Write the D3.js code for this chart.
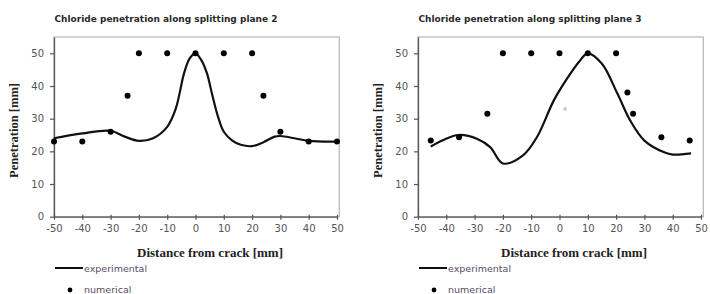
<!DOCTYPE html>
<html>
<head>
<meta charset="utf-8">
<script src="https://cdn.jsdelivr.net/npm/d3@7"></script>
<style>
  body { margin: 0; background: #fff; }
  svg { display: block; }
</style>
</head>
<body>
<script>
const width = 710;
const height = 294;

const titles = ["Chloride penetration along splitting plane 2", "Chloride penetration along splitting plane 3"];
// Plane 2
const exp2 = [[-50,24],[-40,25.5],[-30,26.3],[-25,24.5],[-20,23.2],[-15,24],[-10,27.5],[-7,33],[-4,44],[-2,48.5],[0,50],[2,48],[4,44],[6,37],[8,30.5],[10,26],[13,23.3],[16,22],[20,21.6],[24,22.8],[28,24.5],[30,24.7],[35,24],[40,23.2],[50,23]];
const num2 = [[-50,23],[-40,23],[-30,26],[-24,37],[-20,50],[-10,50],[0,50],[10,50],[20,50],[24,37],[30,26],[40,23],[50,23]];
// Plane 3
const exp3 = [[-45.5,21.5],[-41,23.5],[-35.7,25],[-29,23.8],[-24.5,21.3],[-20,16.3],[-13,18.7],[-8,24.3],[-2,35.6],[3,42.7],[7,47.5],[10,50],[15,46.8],[20.5,37.6],[25,29.4],[30,23.3],[37,19.7],[40,19],[46.5,19.4]];
const num3 = [[-45.5,23.3],[-35.5,24.3],[-25.5,31.5],[-20,50],[-10,50],[0,50],[10,50],[20,50],[24,38],[26,31.5],[36,24.3],[46,23.3]];
const faint3 = [[2,33]];

const xTicks = [-50,-40,-30,-20,-10,0,10,20,30,40,50];
const yTicks = [0,10,20,30,40,50];

const svg = d3.select("body").append("svg")
  .attr("width", width)
  .attr("height", height);

function drawPanel(left, title, expData, numData, ghost) {
  const plotW = 283;
  const top = 37, bottom = 216.7;
  const x = d3.scaleLinear().domain([-50, 50]).range([left, left + plotW]);
  const y = d3.scaleLinear().domain([0, 55]).range([bottom, top]);
  const g = svg.append("g");

  // frame
  g.append("rect")
    .attr("x", x(-50)).attr("y", y(55))
    .attr("width", x(50.8) - x(-50)).attr("height", y(0) - y(55))
    .attr("fill", "none").attr("stroke", "#b5b5b5").attr("stroke-width", 1.2);

  // axes
  const yAxis = g.append("g")
    .attr("transform", `translate(${x(-50)},0)`)
    .call(d3.axisLeft(y).tickValues(yTicks).tickSize(4).tickSizeOuter(0));
  const xAxis = g.append("g")
    .attr("transform", `translate(0,${y(0)})`)
    .call(d3.axisBottom(x).tickValues(xTicks).tickSize(3).tickSizeOuter(0)
      .tickFormat(d => String(d)));
  [xAxis, yAxis].forEach(a => {
    a.select(".domain").attr("stroke", "#555").attr("stroke-width", 1.3);
    a.selectAll(".tick line").attr("stroke", "#555").attr("stroke-width", 1.2);
    a.selectAll("text")
      .attr("fill", "#555")
      .style("font-family", "DejaVu Sans")
      .style("font-size", "10px");
  });
  yAxis.selectAll("text").attr("x", -10);
  xAxis.selectAll(".tick line").attr("y1", -2);
  xAxis.selectAll("text").attr("y", 8);

  // title
  g.append("text")
    .attr("x", left + 112).attr("y", 22)
    .attr("text-anchor", "middle")
    .style("font-family", "DejaVu Sans")
    .style("font-weight", "bold")
    .style("font-size", "9px")
    .attr("fill", "#2a2a2a")
    .text(title);

  // axis titles
  g.append("text")
    .attr("transform", `translate(${left - 36},130.5) rotate(-90)`)
    .attr("text-anchor", "middle")
    .attr("textLength", 95)
    .attr("lengthAdjust", "spacingAndGlyphs")
    .style("font-family", "Liberation Serif")
    .style("font-weight", "bold")
    .style("font-size", "11.5px")
    .attr("fill", "#222")
    .text("Penetration  [mm]");
  g.append("text")
    .attr("x", left + 156).attr("y", 257)
    .attr("text-anchor", "middle")
    .style("font-family", "Liberation Serif")
    .style("font-weight", "bold")
    .style("font-size", "13px")
    .attr("fill", "#222")
    .text("Distance from  crack [mm]");

  // experimental curve
  const line = d3.line()
    .x(d => x(d[0])).y(d => y(d[1]))
    .curve(d3.curveCatmullRom.alpha(0.5));
  g.append("path")
    .datum(expData)
    .attr("d", line)
    .attr("fill", "none")
    .attr("stroke", "#111")
    .attr("stroke-width", 2.2);

  if (ghost) {
    g.selectAll(".ghost").data(ghost).enter().append("circle")
      .attr("cx", d => x(d[0])).attr("cy", d => y(d[1]))
      .attr("r", 2).attr("fill", "#ccc");
  }

  // numerical dots
  g.selectAll(".num").data(numData).enter().append("circle")
    .attr("cx", d => x(d[0])).attr("cy", d => y(d[1]))
    .attr("r", 3).attr("fill", "#000");

  // legend
  const lx = left + 1;
  g.append("line")
    .attr("x1", lx).attr("x2", lx + 28)
    .attr("y1", 268).attr("y2", 268)
    .attr("stroke", "#111").attr("stroke-width", 2);
  g.append("text")
    .attr("x", lx + 29).attr("y", 271.5)
    .style("font-family", "DejaVu Sans")
    .style("font-size", "9.5px")
    .attr("fill", "#5a4a68")
    .text("experimental");
  g.append("circle")
    .attr("cx", lx + 15).attr("cy", 290).attr("r", 2.4).attr("fill", "#000");
  g.append("text")
    .attr("x", lx + 29).attr("y", 293)
    .style("font-family", "DejaVu Sans")
    .style("font-size", "9.5px")
    .attr("fill", "#5a4a68")
    .text("numerical");
}

drawPanel(54, titles[0], exp2, num2, null);
drawPanel(418, titles[1], exp3, num3, faint3);
</script>
</body>
</html>
